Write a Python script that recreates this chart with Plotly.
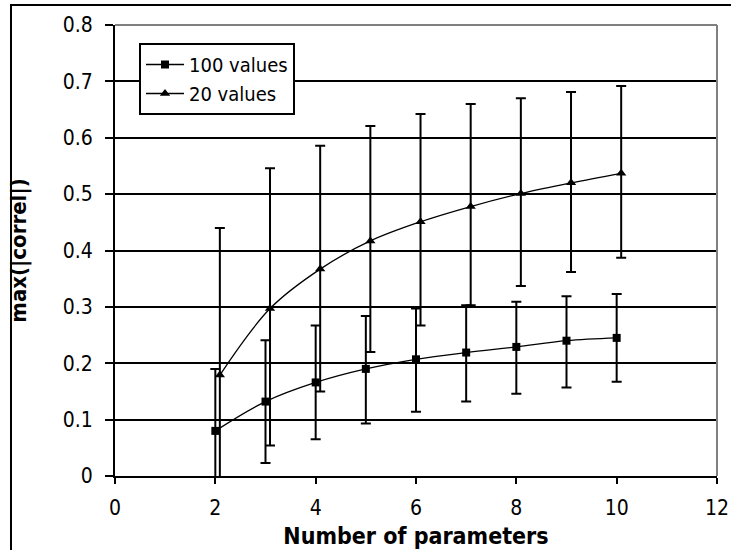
import plotly.graph_objects as go

# ---- data ----
params = [2, 3, 4, 5, 6, 7, 8, 9, 10]
params_20 = [2.09, 3.09, 4.09, 5.09, 6.09, 7.09, 8.09, 9.09, 10.09]

y100 = [0.080, 0.132, 0.166, 0.190, 0.207, 0.219, 0.229, 0.240, 0.245]
y100_hi = [0.190, 0.241, 0.267, 0.284, 0.297, 0.303, 0.309, 0.319, 0.323]
y100_lo = [-0.030, 0.023, 0.065, 0.093, 0.114, 0.132, 0.146, 0.157, 0.167]

y20 = [0.179, 0.297, 0.367, 0.417, 0.451, 0.478, 0.501, 0.520, 0.537]
y20_hi = [0.440, 0.546, 0.586, 0.621, 0.642, 0.660, 0.670, 0.681, 0.692]
y20_lo = [-0.080, 0.054, 0.150, 0.220, 0.267, 0.303, 0.337, 0.362, 0.387]

series_names = ["100 values", "20 values"]
x_title = "Number of parameters"
y_title = "max(|correl|)"

# ---- layout geometry ----
W, H = 731, 550
ML, MR, MT, MB = 115, 14, 25, 74
PW = W - ML - MR
PH = H - MT - MB

FONT = "DejaVu Sans Condensed, Liberation Sans, Arial"


def err(vals, hi, lo):
    return dict(
        type="data", symmetric=False,
        array=[h - v for h, v in zip(hi, vals)],
        arrayminus=[v - l for v, l in zip(vals, lo)],
        color="black", thickness=2, width=5,
    )


fig = go.Figure()
fig.add_trace(go.Scatter(
    x=params, y=y100, name=series_names[0], mode="lines+markers",
    line=dict(color="black", width=1.3, shape="spline", smoothing=1),
    marker=dict(symbol="square", size=8, color="black"),
    error_y=err(y100, y100_hi, y100_lo),
))
fig.add_trace(go.Scatter(
    x=params_20, y=y20, name=series_names[1], mode="lines+markers",
    line=dict(color="black", width=1.3, shape="spline", smoothing=1),
    marker=dict(symbol="triangle-up", size=9, color="black"),
    error_y=err(y20, y20_hi, y20_lo),
))

px2x = lambda px: (px - ML) / PW
py2y = lambda py: (H - MB - py) / PH

fig.update_layout(
    width=W, height=H,
    margin=dict(l=ML, r=MR, t=MT, b=MB, pad=0, autoexpand=False),
    paper_bgcolor="white", plot_bgcolor="white",
    font=dict(family=FONT, size=21, color="black"),
    showlegend=True,
    legend=dict(
        x=px2x(139), y=py2y(43), xanchor="left", yanchor="top",
        bordercolor="black", borderwidth=2, bgcolor="white",
        font=dict(family=FONT, size=20, color="black"),
        tracegroupgap=0, itemwidth=38,
    ),
    xaxis=dict(
        range=[0, 12], tickmode="linear", tick0=0, dtick=2,
        showgrid=False, zeroline=False, automargin=False,
        showline=True, linecolor="black", linewidth=2,
        ticks="outside", ticklen=6, tickwidth=2, tickcolor="black",
        ticklabelstandoff=6,
        tickfont=dict(family=FONT, size=21),
        title=dict(text="<b>" + x_title + "</b>", font=dict(family=FONT, size=23), standoff=9),
    ),
    yaxis=dict(
        range=[0, 0.8], tickmode="linear", tick0=0, dtick=0.1,
        showgrid=True, gridcolor="black", gridwidth=2,
        zeroline=False, automargin=False,
        showline=True, linecolor="black", linewidth=2,
        ticks="outside", ticklen=8, tickwidth=2, tickcolor="black",
        ticklabelstandoff=8,
        tickfont=dict(family=FONT, size=21),
        title=dict(text="<b>" + y_title + "</b>", font=dict(family=FONT, size=22), standoff=30),
    ),
    shapes=[
        # grey plot-area border top and right
        dict(type="line", xref="paper", yref="paper", x0=0, x1=1, y0=1, y1=1,
             line=dict(color="#808080", width=2), layer="above"),
        dict(type="line", xref="paper", yref="paper", x0=1, x1=1, y0=0, y1=1,
             line=dict(color="#808080", width=2), layer="above"),
        # outer chart border
        dict(type="rect", xref="paper", yref="paper",
             x0=px2x(11), x1=px2x(740), y0=py2y(560), y1=py2y(5),
             line=dict(color="black", width=2), fillcolor="rgba(0,0,0,0)", layer="above"),
    ],
)

fig.write_html("out.html", config={"displayModeBar": False},
               post_script="document.body.style.margin='0';")
